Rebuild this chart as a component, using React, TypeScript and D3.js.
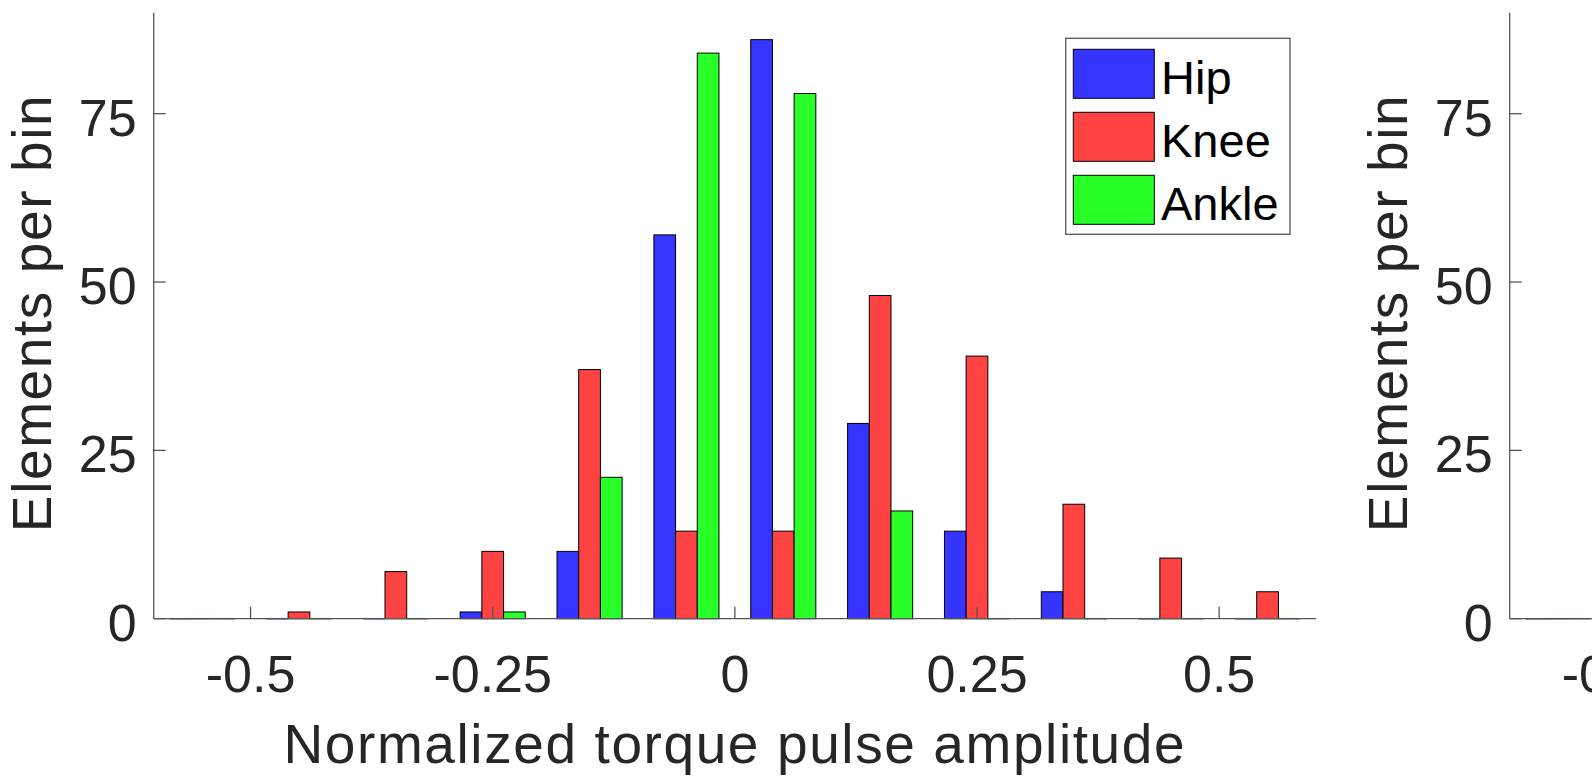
import * as d3 from "d3";

// bin centres of the histogram (bin width 0.1)
const binCenters = [-0.55, -0.45, -0.35, -0.25, -0.15, -0.05, 0.05, 0.15, 0.25, 0.35, 0.45, 0.55];
const hipCounts = [0, 0, 0, 1, 10, 57, 86, 29, 13, 4, 0, 0];
const kneeCounts = [0, 1, 7, 10, 37, 13, 13, 48, 39, 17, 9, 4];
const ankleCounts = [0, 0, 0, 1, 21, 84, 78, 16, 0, 0, 0, 0];

// second panel is cut off by the frame: only its first bin is visible
const rightBinCenters = [-0.55];
const rightHipCounts = [0];
const rightKneeCounts = [0];
const rightAnkleCounts = [0];

const seriesNames = ["Hip", "Knee", "Ankle"];
const seriesColors = ["#3535ff", "#ff4242", "#29ff29"];

const xTicks = [-0.5, -0.25, 0, 0.25, 0.5];
const xTickLabels = ["-0.5", "-0.25", "0", "0.25", "0.5"];
const yTicks = [0, 25, 50, 75];
const yTickLabels = ["0", "25", "50", "75"];

const width = 1592;
const height = 778;
const font = "'Liberation Sans', Arial, Helvetica, sans-serif";
const ink = "#262626";
const axisColor = "#555";
const barUnits = 0.0224;

function Panel({ dx, bins, series, showLegend }) {
  const x = d3.scaleLinear().domain([-0.6, 0.6]).range([153.7 + dx, 1316 + dx]);
  const y = d3.scaleLinear().domain([0, 90]).range([618.7, 12.7]);
  const y0 = y(0);
  const left = x.range()[0];

  return (
    <g>
      {series.map((vals, si) =>
        vals.map((v, i) => {
          const x0 = x(bins[i] + (si - 1.5) * barUnits);
          const x1 = x(bins[i] + (si - 0.5) * barUnits);
          if (v === 0) {
            return (
              <line key={`z-${si}-${i}`} x1={x0} x2={x1} y1={y0} y2={y0}
                stroke={d3.color(seriesColors[si]).darker(2.2).formatHex()} strokeWidth={1.5} />
            );
          }
          return (
            <rect key={`b-${si}-${i}`} x={x0} y={y(v)} width={x1 - x0} height={y0 - y(v)}
              fill={seriesColors[si]} stroke="#000" strokeWidth={1} />
          );
        })
      )}

      {/* axes */}
      <line x1={left} x2={x.range()[1]} y1={y0} y2={y0} stroke={axisColor} strokeWidth={1.3} />
      <line x1={left} x2={left} y1={y.range()[1]} y2={y0} stroke={axisColor} strokeWidth={1.3} />

      {xTicks.map((t, i) => (
        <g key={`xt-${t}`}>
          <line x1={x(t)} x2={x(t)} y1={y0} y2={y0 - 12} stroke={axisColor} strokeWidth={1.3} />
          <text x={x(t)} y={y0 + 73.5} textAnchor="middle" fontSize={52} fill={ink} fontFamily={font}>
            {xTickLabels[i]}
          </text>
        </g>
      ))}
      {yTicks.map((t, i) => (
        <g key={`yt-${t}`}>
          <line x1={left} x2={left + 12} y1={y(t)} y2={y(t)} stroke={axisColor} strokeWidth={1.3} />
          <text x={left - 17} y={y(t) + 22} textAnchor="end" fontSize={52} fill={ink} fontFamily={font}>
            {yTickLabels[i]}
          </text>
        </g>
      ))}

      <text x={(x.range()[0] + x.range()[1]) / 2} y={763} textAnchor="middle" fontSize={55}
        letterSpacing={1.6} fill={ink} fontFamily={font}>
        Normalized torque pulse amplitude
      </text>
      <text transform={`translate(${51 + dx},${313}) rotate(-90)`} textAnchor="middle" fontSize={55}
        letterSpacing={1.6} fill={ink} fontFamily={font}>
        Elements per bin
      </text>

      {showLegend && (
        <g>
          <rect x={1065.7} y={38.3} width={224.3} height={196} fill="#fff" stroke={axisColor} strokeWidth={1.3} />
          {seriesNames.map((name, i) => (
            <g key={name} transform={`translate(0,${i * 63})`}>
              <rect x={1073.3} y={49.3} width={81} height={49} fill={seriesColors[i]} stroke="#000" strokeWidth={1} />
              <text x={1161} y={93.5} fontSize={47} fill="#000" fontFamily={font}>
                {name}
              </text>
            </g>
          ))}
        </g>
      )}
    </g>
  );
}

export default function App() {
  return (
    <svg width={width} height={height} viewBox={`0 0 ${width} ${height}`}
      style={{ position: "absolute", left: 0, top: 0, display: "block", background: "#fff" }}>
      <rect width={width} height={height} fill="#fff" />
      <Panel dx={0} bins={binCenters} series={[hipCounts, kneeCounts, ankleCounts]} showLegend />
      <Panel dx={1356} bins={rightBinCenters}
        series={[rightHipCounts, rightKneeCounts, rightAnkleCounts]} showLegend={false} />
    </svg>
  );
}
